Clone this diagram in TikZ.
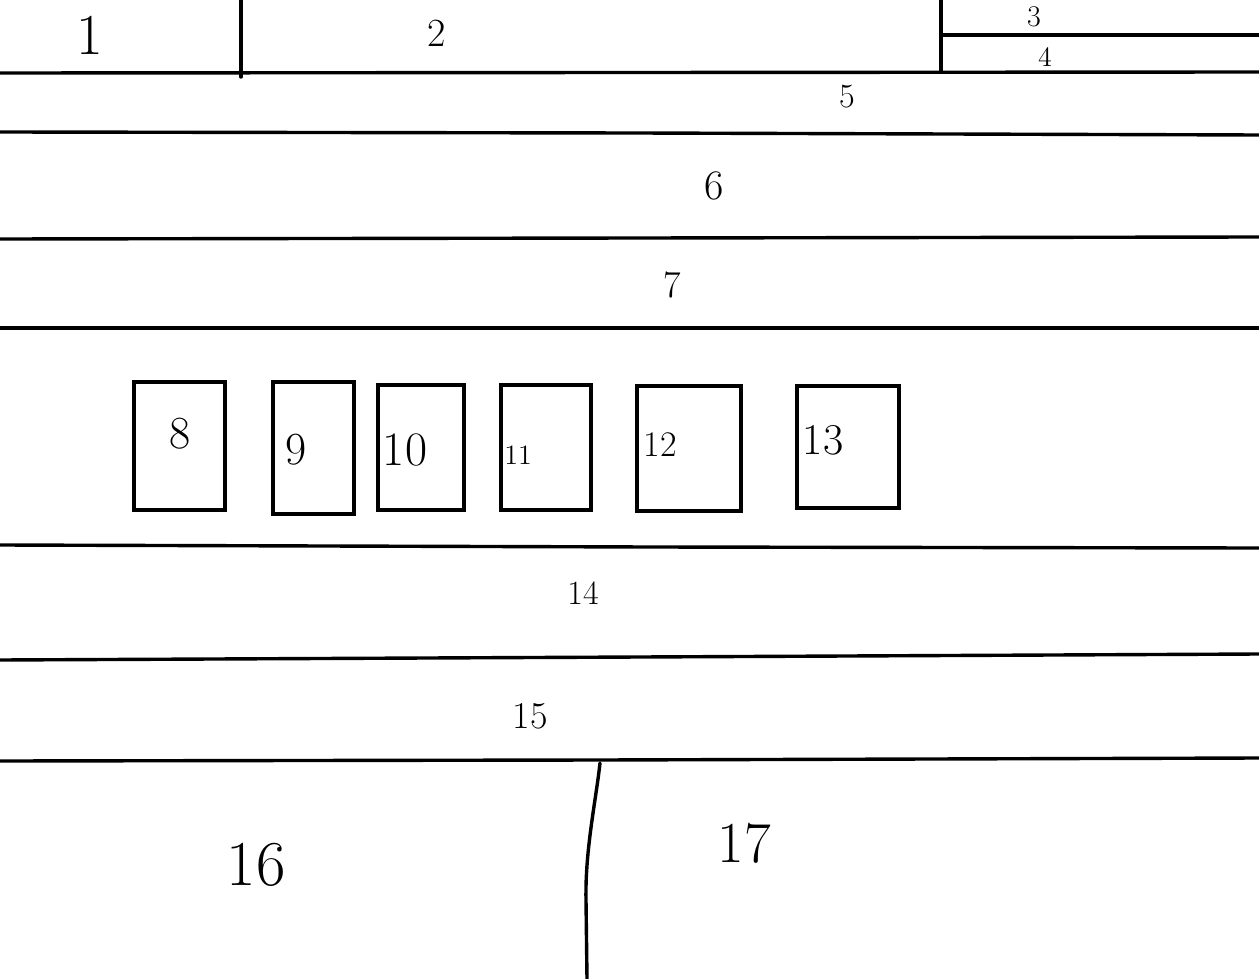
\documentclass[tikz,border=0pt]{standalone}
\begin{document}
\begin{tikzpicture}[x=0.5pt,y=-0.5pt,
  stroke/.style={line width=1.7pt,black,line cap=round},
  lab/.style={font=\fontsize{#1}{#1}\selectfont,inner sep=0pt}]
\useasboundingbox[fill=white] (0,0) rectangle (1259,979);
% header
\draw[stroke] (241,0) -- (241,77);
\draw[stroke] (941,0) -- (941,72);
\draw[stroke] (941,35) -- (1259,35);
\draw[stroke] (0,73) -- (1259,72);
% bands
\draw[stroke] (0,132) -- (637,133) -- (1259,135);
\draw[stroke] (0,239) -- (640,238) -- (1259,237);
\draw[stroke] (0,328) -- (1259,328);
\draw[stroke] (0,545) -- (650,547) -- (1259,548);
\draw[stroke] (0,660) -- (640,657) -- (1259,654);
\draw[stroke] (0,761) -- (600,760) -- (1259,758);
\draw[stroke] (600,763) .. controls (596,800) and (585,850) .. (586,900) -- (587,979);
% boxes
\draw[stroke] (134,382) rectangle (225,510);
\draw[stroke] (273,382) rectangle (354,514);
\draw[stroke] (378,385) rectangle (464,510);
\draw[stroke] (501,385) rectangle (591,510);
\draw[stroke] (637,386) rectangle (741,511);
\draw[stroke] (797,386) rectangle (899,508);
% labels
\node[lab=29] (l1) at (90,35) {1};
\node[lab=20] (l2) at (437,33) {2};
\node[lab=15] (l3) at (1034,17) {3};
\node[lab=14] (l4) at (1045,57) {4};
\node[lab=17] (l5) at (847,97) {5};
\node[lab=21] (l6) at (714,186) {6};
\node[lab=19] (l7) at (672,285) {7};
\node[lab=23] (l8) at (180,434) {8};
\node[lab=23] (l9) at (296,450) {9};
\node[lab=24] (l10) at (405,450) {10};
\node[lab=14] (l11) at (518,455) {11};
\node[lab=18] (l12) at (660,445) {12};
\node[lab=22] (l13) at (823,440) {13};
\node[lab=17] (l14) at (583,593) {14};
\node[lab=19] (l15) at (530,716) {15};
\node[lab=32] (l16) at (256,865) {16};
\node[lab=29] (l17) at (744,843) {17};
\end{tikzpicture}
\end{document}
